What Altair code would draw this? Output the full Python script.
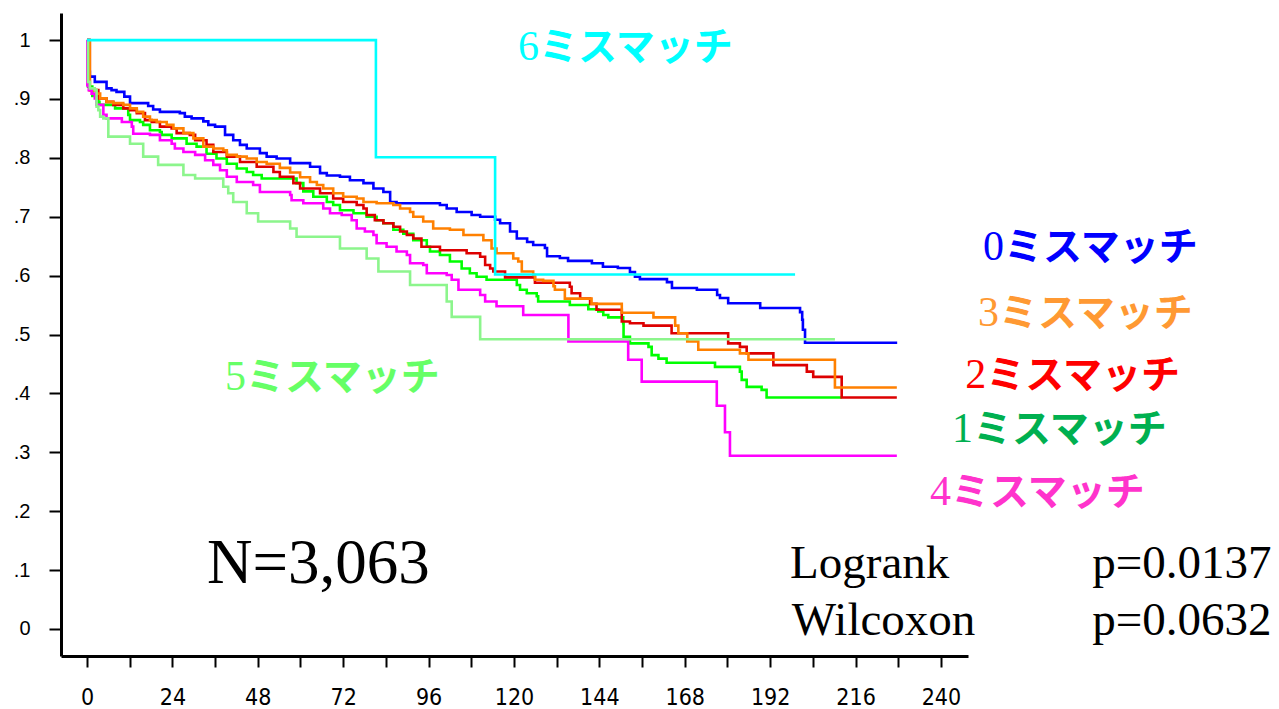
import altair as alt
import pandas as pd

# ---- survival curves (months, survival proportion) ----
T0 = [0, 0.65, 0.8, 2.2, 5.5, 6.9, 8.3, 10.5, 12.1, 17.2, 18.6, 20.5, 26.1, 27.5, 29.4, 32.7, 34.1, 36.0, 38.8, 41.1,
      43.0, 44.9, 48.6, 50.5, 53.3, 57.1, 62.7, 65.5, 67.4, 71.1, 73.9, 77.7, 80.5, 83.3, 85.2, 87.0, 99.2, 101.1, 103.9, 108.1,
      110.5, 114.7, 116.1, 118.9, 120.8, 123.7, 125.4, 128.7, 129.3, 132.9, 135.2, 141.9, 145.0, 149.2, 152.6, 154.0, 155.4, 163.0, 164.4, 171.4,
      177.1, 177.9, 180.2, 189.2, 200.4, 201.0, 201.2, 201.8, 227.7]
S0 = [1.0, 0.946, 0.938, 0.929, 0.918, 0.915, 0.912, 0.904, 0.893, 0.888, 0.882, 0.878, 0.876, 0.870, 0.867, 0.862, 0.856, 0.853, 0.839, 0.830,
      0.822, 0.816, 0.808, 0.802, 0.799, 0.791, 0.785, 0.774, 0.770, 0.768, 0.762, 0.757, 0.748, 0.742, 0.725, 0.723, 0.720, 0.714, 0.708, 0.703,
      0.700, 0.695, 0.689, 0.675, 0.663, 0.657, 0.652, 0.647, 0.633, 0.630, 0.625, 0.621, 0.615, 0.613, 0.606, 0.598, 0.594, 0.589, 0.579, 0.576,
      0.567, 0.562, 0.553, 0.545, 0.538, 0.525, 0.508, 0.486, 0.486]

T1 = [0, 0.3, 1.5, 3.2, 3.5, 7.9, 11.6, 12.1, 14.9, 15.8, 17.7, 20.5, 21.0, 23.8, 28.0, 30.8, 33.6, 36.4, 39.3, 42.1,
      44.9, 46.7, 49.1, 58.9, 60.8, 63.6, 67.4, 69.2, 71.1, 74.9, 78.6, 81.4, 83.3, 86.1, 88.9, 91.7, 95.5, 96.4, 99.2, 102.0,
      105.3, 107.6, 109.5, 112.3, 120.8, 121.7, 123.6, 126.4, 126.8, 135.7, 140.9, 143.7, 145.1, 146.5, 150.7, 150.8, 152.6, 157.8, 158.7, 160.6,
      162.9, 176.5, 183.5, 184.0, 185.4, 189.6, 191.0, 212.1]
S1 = [1.0, 0.921, 0.905, 0.895, 0.890, 0.884, 0.873, 0.864, 0.861, 0.856, 0.847, 0.844, 0.839, 0.833, 0.824, 0.819, 0.807, 0.799, 0.790, 0.782,
      0.776, 0.771, 0.765, 0.757, 0.743, 0.734, 0.725, 0.720, 0.711, 0.706, 0.700, 0.694, 0.689, 0.678, 0.671, 0.660, 0.649, 0.641, 0.635, 0.624,
      0.612, 0.604, 0.598, 0.593, 0.584, 0.576, 0.570, 0.565, 0.556, 0.550, 0.543, 0.539, 0.533, 0.529, 0.519, 0.496, 0.485, 0.479, 0.465, 0.459,
      0.452, 0.445, 0.437, 0.423, 0.411, 0.406, 0.393, 0.393]

T2 = [0, 0.8, 3.2, 5.5, 7.4, 10.2, 12.1, 14.0, 16.3, 18.2, 20.5, 23.8, 25.2, 28.9, 30.4, 33.6, 35.5, 39.3, 43.0, 47.7,
      52.4, 54.2, 58.0, 59.9, 65.5, 69.2, 72.0, 75.8, 77.7, 78.6, 80.9, 83.3, 86.1, 88.0, 89.9, 91.7, 94.0, 99.2, 106.7, 110.5,
      111.9, 113.3, 114.2, 117.5, 125.9, 135.7, 136.2, 138.6, 141.4, 143.2, 150.3, 152.6, 156.4, 164.3, 180.2, 183.5, 185.4, 192.9, 202.3, 204.1,
      212.1, 227.6]
S2 = [1.0, 0.915, 0.901, 0.895, 0.890, 0.884, 0.881, 0.876, 0.864, 0.861, 0.853, 0.850, 0.842, 0.839, 0.830, 0.822, 0.810, 0.802, 0.793, 0.785,
      0.776, 0.768, 0.757, 0.748, 0.740, 0.731, 0.725, 0.720, 0.714, 0.703, 0.694, 0.689, 0.683, 0.675, 0.669, 0.663, 0.649, 0.643, 0.638, 0.632,
      0.618, 0.612, 0.607, 0.597, 0.588, 0.581, 0.570, 0.561, 0.552, 0.542, 0.522, 0.519, 0.515, 0.502, 0.485, 0.479, 0.468, 0.448, 0.437, 0.428,
      0.393, 0.393]

T3 = [0, 0.8, 2.7, 3.7, 5.5, 7.4, 10.2, 12.1, 14.0, 15.8, 17.7, 19.6, 22.4, 24.3, 27.1, 29.9, 32.7, 35.5, 38.3, 39.3,
      42.1, 44.9, 47.7, 50.5, 54.2, 57.1, 59.9, 62.7, 64.6, 66.4, 69.2, 72.0, 75.8, 77.7, 81.4, 86.1, 88.0, 90.8, 91.7, 94.5,
      97.3, 102.0, 105.8, 111.4, 113.7, 115.1, 119.8, 121.2, 122.2, 125.4, 125.9, 128.2, 131.1, 131.5, 134.3, 141.8, 150.3, 159.2, 165.3, 166.2,
      168.7, 171.8, 183.5, 185.9, 210.2, 227.6]
S3 = [1.0, 0.915, 0.909, 0.901, 0.895, 0.893, 0.890, 0.884, 0.878, 0.870, 0.864, 0.861, 0.856, 0.850, 0.842, 0.833, 0.819, 0.816, 0.813, 0.805,
      0.802, 0.799, 0.793, 0.790, 0.783, 0.775, 0.767, 0.759, 0.754, 0.748, 0.740, 0.734, 0.731, 0.725, 0.723, 0.720, 0.714, 0.708, 0.700, 0.692,
      0.680, 0.678, 0.669, 0.660, 0.646, 0.638, 0.629, 0.624, 0.607, 0.601, 0.593, 0.591, 0.582, 0.576, 0.561, 0.552, 0.537, 0.529, 0.515, 0.502,
      0.488, 0.474, 0.468, 0.457, 0.410, 0.410]

T4 = [0, 0.1, 0.5, 1.3, 2.2, 2.7, 4.6, 5.5, 9.8, 12.6, 13.0, 17.7, 20.5, 23.8, 24.7, 27.1, 30.4, 33.2, 35.5, 37.4,
      39.3, 42.1, 46.7, 48.6, 57.1, 57.5, 60.8, 66.4, 68.3, 71.6, 74.4, 75.8, 78.1, 80.5, 81.4, 84.2, 87.0, 89.9, 90.8, 94.5,
      95.5, 101.1, 102.5, 104.4, 110.5, 111.9, 115.1, 122.6, 135.3, 152.1, 155.9, 177.0, 179.3, 180.7, 227.6]
S4 = [1.0, 0.923, 0.915, 0.909, 0.901, 0.890, 0.873, 0.867, 0.861, 0.853, 0.841, 0.839, 0.830, 0.824, 0.816, 0.810, 0.805, 0.796, 0.788, 0.779,
      0.768, 0.759, 0.754, 0.742, 0.737, 0.728, 0.723, 0.714, 0.706, 0.703, 0.694, 0.680, 0.675, 0.669, 0.655, 0.649, 0.641, 0.635, 0.621, 0.618,
      0.604, 0.601, 0.593, 0.576, 0.567, 0.556, 0.548, 0.533, 0.488, 0.457, 0.420, 0.379, 0.334, 0.294, 0.294]

T5 = [0, 0.3, 0.8, 2.2, 2.7, 3.2, 3.7, 4.6, 6.0, 12.1, 15.8, 20.0, 27.1, 30.4, 38.3, 39.7, 41.1, 44.9, 48.1, 57.1,
      58.9, 71.1, 78.6, 81.9, 90.8, 101.1, 102.5, 110.5, 210.2]
S5 = [1.0, 0.929, 0.918, 0.915, 0.887, 0.881, 0.870, 0.867, 0.836, 0.824, 0.802, 0.788, 0.771, 0.765, 0.751, 0.740, 0.725, 0.706, 0.692, 0.680,
      0.666, 0.646, 0.629, 0.607, 0.584, 0.556, 0.530, 0.492, 0.492]

T6 = [0, 81.2, 114.7, 199.0]
S6 = [1.0, 0.801, 0.602, 0.602]

GROUPS = ["0", "1", "2", "3", "4", "5", "6"]
LINE_COLORS = ["#0000FF", "#00FF00", "#DD0000", "#FF8000", "#FF00FF", "#8CF58C", "#00FFFF"]

# ---- curve labels (digit in serif, katakana in gothic) ----
LABEL_NUM = ["0", "3", "2", "1", "4", "5", "6"]
LABEL_KANA = ["ミスマッチ"] * 7
LABEL_T = [251.8, 250.4, 246.8, 243.1, 236.9, 38.8, 121.1]
LABEL_S = [0.626, 0.514, 0.409, 0.317, 0.211, 0.406, 0.966]
LABEL_COLORS = ["#0000FF", "#FF9933", "#FF0000", "#00B050", "#FF33CC", "#66FF66", "#00FFFF"]

# ---- statistics text ----
STAT_TEXT = ["Logrank", "p=0.0137", "Wilcoxon", "p=0.0632"]
STAT_T = [197.6, 282.5, 198.1, 282.5]
STAT_S = [0.087, 0.087, -0.010, -0.010]

N_TEXT = ["N=3,063"]
N_T = [33.7]
N_S = [0.078]

X_TICKS = list(range(0, 241, 12))
Y_TICKS = [round(i * 0.05, 2) for i in range(21)]

series = {"0": (T0, S0), "1": (T1, S1), "2": (T2, S2), "3": (T3, S3),
          "4": (T4, S4), "5": (T5, S5), "6": (T6, S6)}
rows = []
for g, (T, S) in series.items():
    assert len(T) == len(S), g
    for i, (t, s) in enumerate(zip(T, S)):
        rows.append({"g": g, "t": t, "s": s, "i": i})
curves = pd.DataFrame(rows)

labels = pd.DataFrame({"num": LABEL_NUM, "kana": LABEL_KANA, "t": LABEL_T, "s": LABEL_S, "c": LABEL_COLORS})
stats = pd.DataFrame({"txt": STAT_TEXT, "t": STAT_T, "s": STAT_S})
ntext = pd.DataFrame({"txt": N_TEXT, "t": N_T, "s": N_S})

x_scale = alt.Scale(domain=[-7.3, 247.6], nice=False, zero=False)
y_scale = alt.Scale(domain=[-0.046, 1.046], nice=False, zero=False)

x_axis = alt.Axis(
    values=X_TICKS, title=None, grid=False,
    labelExpr="datum.value % 24 == 0 ? datum.value : ''",
    labelFont="Liberation Sans Narrow, DejaVu Sans Condensed, Liberation Sans",
    labelFontSize=23, labelColor="black", labelPadding=19,
    domainColor="black", domainWidth=3, tickColor="black", tickWidth=2, tickSize=11,
    labelFlush=False, labelOverlap=False,
)
y_axis = alt.Axis(
    values=Y_TICKS, title=None, grid=False,
    labelExpr="round(datum.value * 100) % 10 == 0 ? (datum.value >= 0.999 ? '1' : (datum.value <= 0.001 ? '0' : '.' + round(datum.value * 10))) : ''",
    labelFont="Liberation Sans", labelFontSize=20, labelColor="black", labelPadding=19,
    domainColor="black", domainWidth=3, tickColor="black", tickWidth=2, tickSize=12,
    labelFlush=False, labelOverlap=False,
)

lines = alt.Chart(curves).mark_line(interpolate="step-after", strokeWidth=2.6).encode(
    x=alt.X("t:Q", scale=x_scale, axis=x_axis),
    y=alt.Y("s:Q", scale=y_scale, axis=y_axis),
    color=alt.Color("g:N", scale=alt.Scale(domain=GROUPS, range=LINE_COLORS), legend=None),
    detail="g:N",
    order="i:Q",
)

num_layer = alt.Chart(labels).mark_text(
    align="left", baseline="alphabetic", fontSize=42, font="Liberation Serif",
).encode(
    x=alt.X("t:Q", scale=x_scale),
    y=alt.Y("s:Q", scale=y_scale),
    text="num:N",
    color=alt.Color("c:N", scale=None),
)

kana_layer = alt.Chart(labels).mark_text(
    align="left", baseline="alphabetic", fontSize=39, dx=21,
    font="Noto Sans CJK JP", fontWeight="bold",
).encode(
    x=alt.X("t:Q", scale=x_scale),
    y=alt.Y("s:Q", scale=y_scale),
    text="kana:N",
    color=alt.Color("c:N", scale=None),
)

stat_layer = alt.Chart(stats).mark_text(
    align="left", baseline="alphabetic", fontSize=47, font="Liberation Serif", color="black",
).encode(
    x=alt.X("t:Q", scale=x_scale),
    y=alt.Y("s:Q", scale=y_scale),
    text="txt:N",
)

n_layer = alt.Chart(ntext).mark_text(
    align="left", baseline="alphabetic", fontSize=63, font="Liberation Serif", color="black",
).encode(
    x=alt.X("t:Q", scale=x_scale),
    y=alt.Y("s:Q", scale=y_scale),
    text="txt:N",
)

chart = alt.layer(lines, num_layer, kana_layer, stat_layer, n_layer).properties(
    width=907, height=643,
    autosize=alt.AutoSizeParams(type="none"),
    padding={"left": 61, "top": 13, "right": 311, "bottom": 53},
    background="white",
).configure_view(stroke=None)

chart.save("out.html", embed_options={"renderer": "svg", "actions": False})
